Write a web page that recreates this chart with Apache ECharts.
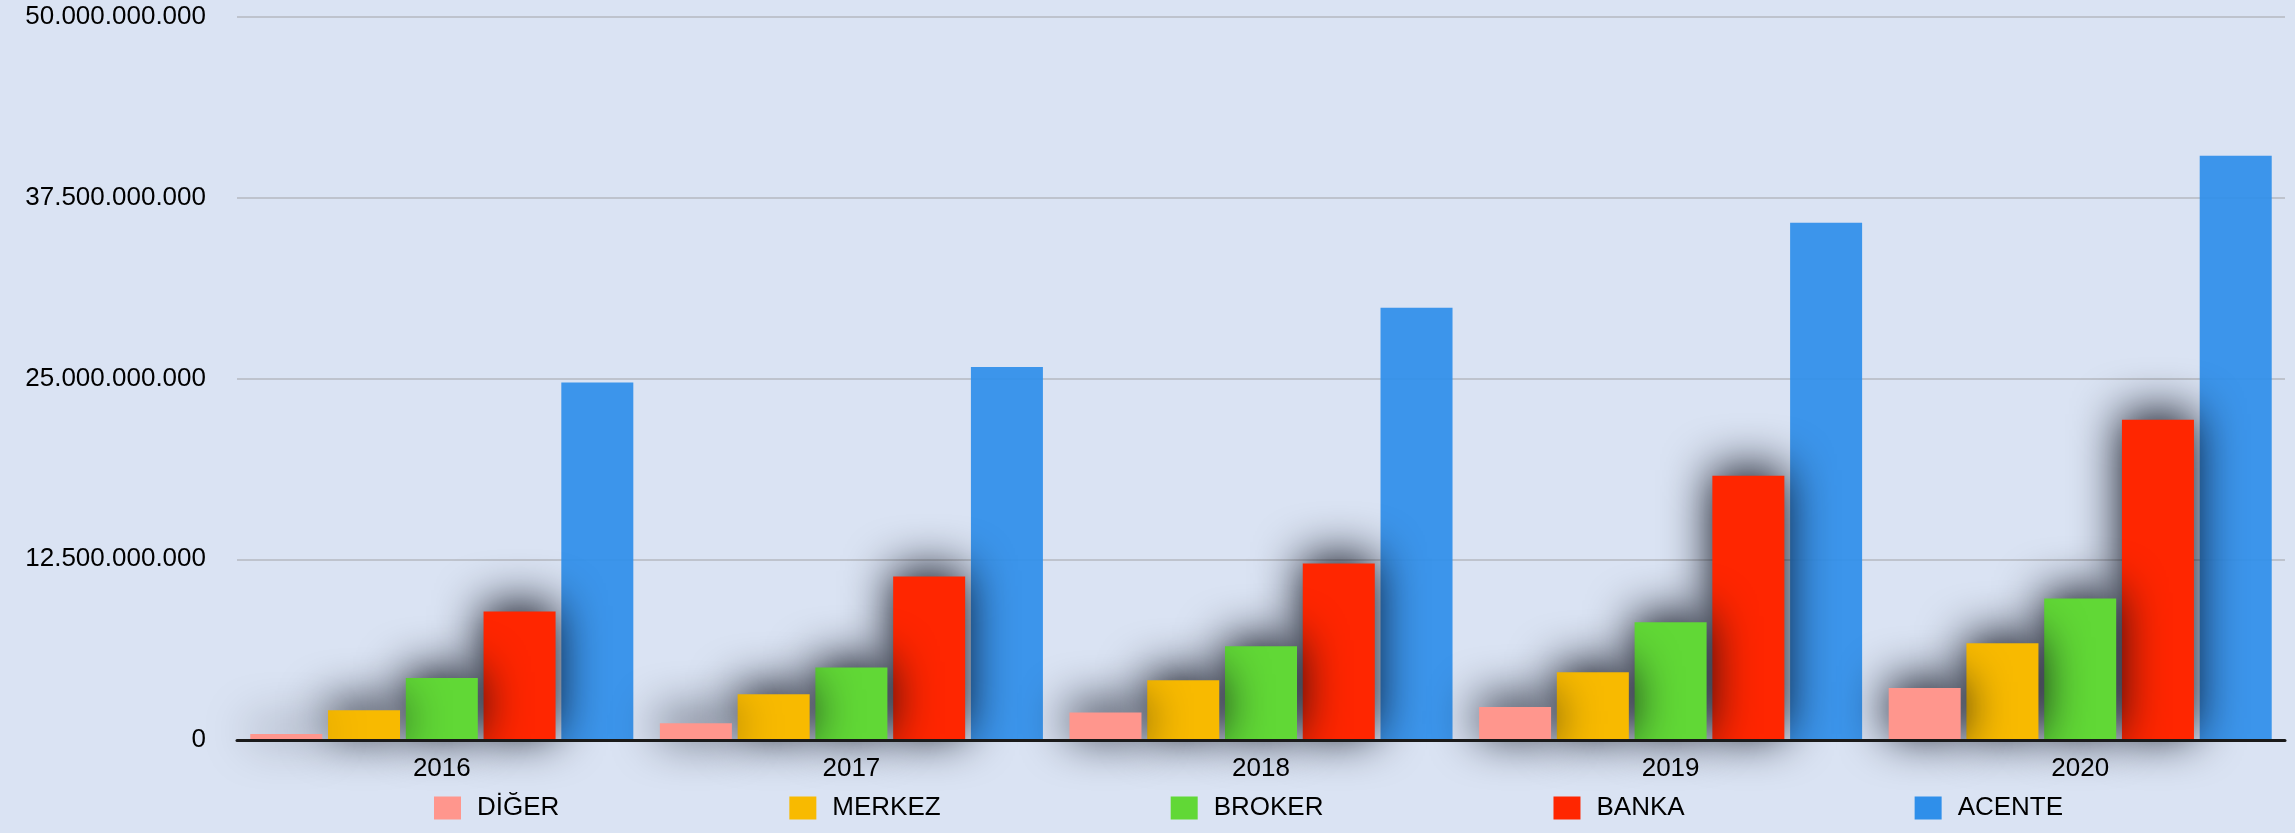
<!DOCTYPE html>
<html>
<head>
<meta charset="utf-8">
<script src="https://cdn.jsdelivr.net/npm/echarts@6/dist/echarts.min.js"></script>
<style>
html,body{margin:0;padding:0;background:#DAE3F3;}
#c{width:2295px;height:833px;}
</style>
</head>
<body>
<div id="c"></div>
<script>
var categories = ['2016', '2017', '2018', '2019', '2020'];
var seriesNames = ['DİĞER', 'MERKEZ', 'BROKER', 'BANKA', 'ACENTE'];
var diger  = [410000000, 1150000000, 1910000000, 2280000000, 3600000000];
var merkez = [2050000000, 3160000000, 4140000000, 4680000000, 6690000000];
var broker = [4280000000, 5020000000, 6490000000, 8150000000, 9790000000];
var banka  = [8890000000, 11300000000, 12200000000, 18280000000, 22150000000];
var acente = [24720000000, 25800000000, 29900000000, 35770000000, 40400000000];
var yTicks = [0, 12500000000, 25000000000, 37500000000, 50000000000];

var colors = ['#FF968D', '#F8BA00', '#61D836', '#FF2600', '#2F8FEA'];
var values = [diger, merkez, broker, banka, acente];

function fmt(v) {
  return String(Math.round(v)).replace(/\B(?=(\d{3})+(?!\d))/g, '.');
}

var font = "'Liberation Sans', Arial, Helvetica, sans-serif";
var series = seriesNames.map(function (n, i) {
  var isBlue = i === 4;
  return {
    name: n,
    type: 'bar',
    data: values[i],
    barWidth: 72,
    barGap: '8%',
    z: 6 - i,
    itemStyle: {
      color: colors[i],
      opacity: isBlue ? 0.93 : 1,
      shadowBlur: isBlue ? 0 : 48,
      shadowColor: isBlue ? 'rgba(0,0,0,0)' : 'rgba(5,8,20,1)',
      shadowOffsetX: 0,
      shadowOffsetY: -6
    },
    emphasis: { disabled: true }
  };
});

var chart = echarts.init(document.getElementById('c'), null, { renderer: 'canvas' });
chart.setOption({
  backgroundColor: '#DAE3F3',
  animation: false,
  textStyle: { fontFamily: font },
  grid: { left: 237, right: 10, top: 17, bottom: 93, containLabel: false },
  legend: {
    data: seriesNames,
    left: 429,
    top: 790,
    icon: 'rect',
    itemWidth: 27,
    itemHeight: 23,
    itemGap: 230,
    itemStyle: { shadowBlur: 0, shadowColor: 'rgba(0,0,0,0)', opacity: 1 },
    textStyle: { fontSize: 26, color: '#000', fontFamily: font, padding: [0, 0, 0, 11] }
  },
  xAxis: {
    type: 'category',
    data: categories,
    z: 10,
    axisTick: { show: false },
    axisLine: { show: true, lineStyle: { color: '#1a1a1a', width: 3 } },
    axisLabel: { fontSize: 26, color: '#000', margin: 16, fontFamily: font },
    splitLine: { show: false }
  },
  yAxis: {
    type: 'value',
    min: yTicks[0],
    max: yTicks[yTicks.length - 1],
    interval: yTicks[1] - yTicks[0],
    axisLine: { show: false },
    axisTick: { show: false },
    axisLabel: { fontSize: 26, color: '#000', margin: 31, fontFamily: font, formatter: fmt },
    splitLine: { show: true, lineStyle: { color: '#BEC3CD', width: 2 } }
  },
  series: series
});
</script>
</body>
</html>
